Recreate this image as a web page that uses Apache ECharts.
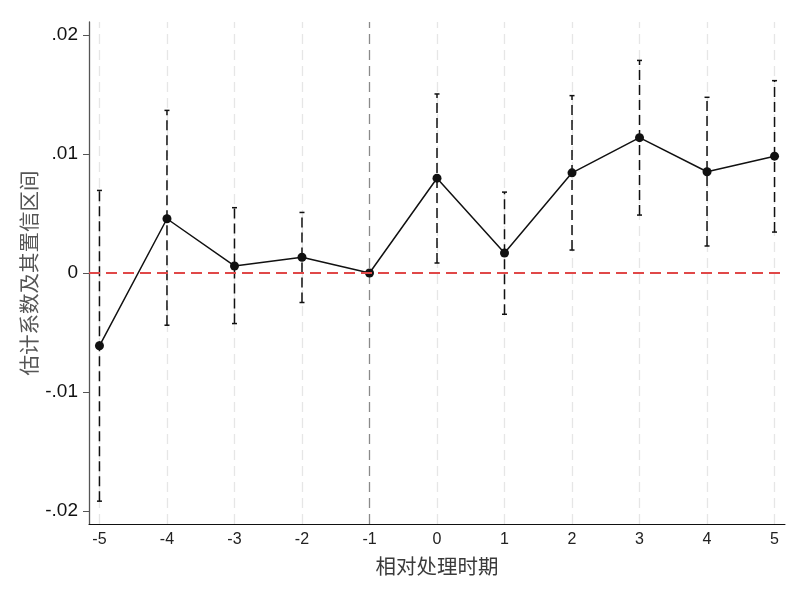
<!DOCTYPE html>
<html>
<head>
<meta charset="utf-8">
<script src="https://cdn.jsdelivr.net/npm/echarts@6/dist/echarts.min.js"></script>
<style>
  html, body { margin: 0; padding: 0; background: #fff; }
  #main { width: 800px; height: 600px; }
</style>
</head>
<body>
<div id="main"></div>
<script>
// 相对处理时期
var periods = [-5, -4, -3, -2, -1, 0, 1, 2, 3, 4, 5];
// 估计系数
var coef = [-0.00612, 0.00456, 0.00059, 0.00132, 0, 0.00797, 0.00168, 0.00842, 0.01138, 0.00851, 0.00982];
// 置信区间
var ciLow = [-0.01918, -0.00439, -0.00425, -0.00248, null, 0.00084, -0.00347, 0.00193, 0.00487, 0.00227, 0.00344];
var ciHigh = [0.00694, 0.01367, 0.00549, 0.00509, null, 0.01505, 0.0068, 0.01491, 0.01787, 0.01477, 0.01617];
var yTicks = [-0.02, -0.01, 0, 0.01, 0.02];
var basePeriod = -1;

var chart = echarts.init(document.getElementById('main'));

var linePoints = periods.map(function (p, i) { return [p, coef[i]]; });
var ciData = [];
periods.forEach(function (p, i) {
  if (ciLow[i] != null) ciData.push([p, ciLow[i], ciHigh[i]]);
});

// vertical guide lines
var vLines = periods.map(function (p) {
  return {
    xAxis: p,
    lineStyle: p === basePeriod
      ? { color: '#8a8a8a', width: 1.3, type: [10, 6] }
      : { color: '#e6e6e6', width: 1.3, type: [10, 6] }
  };
});

function fmtY(v) {
  if (Math.abs(v) < 1e-9) return '0';
  var s = v.toFixed(2);
  return s.replace('0.', '.');
}

var option = {
  backgroundColor: '#fff',
  animation: false,
  grid: { left: 89, right: 15, top: 22, bottom: 76 },
  xAxis: {
    type: 'value',
    min: -5.155,
    max: 5.155,
    name: '相对处理时期',
    nameLocation: 'middle',
    nameGap: 32,
    nameMoveOverlap: false,
    nameTextStyle: { fontFamily: 'Noto Sans CJK SC', fontSize: 20.5, color: '#3a3a3a' },
    axisLine: { onZero: false, lineStyle: { color: '#111', width: 1 } },
    axisTick: { show: false },
    splitLine: { show: false },
    axisLabel: {
      customValues: periods,
      fontFamily: 'Liberation Sans',
      fontSize: 16,
      color: '#222',
      margin: 8,
      formatter: function (v) { return String(v); }
    }
  },
  yAxis: {
    type: 'value',
    min: -0.0211,
    max: 0.0211,
    name: '估计系数及其置信区间',
    nameLocation: 'middle',
    nameGap: 50,
    nameMoveOverlap: false,
    nameRotate: 90,
    nameTextStyle: { fontFamily: 'Noto Sans CJK SC', fontSize: 20.5, color: '#555' },
    axisLine: { show: true, onZero: false, lineStyle: { color: '#555', width: 1.3 } },
    axisTick: { show: true, customValues: yTicks, length: 6, lineStyle: { color: '#555' } },
    splitLine: { show: false },
    axisLabel: {
      customValues: yTicks,
      fontFamily: 'Liberation Sans',
      fontSize: 19,
      color: '#111',
      margin: 11,
      formatter: fmtY
    }
  },
  series: [
    {
      type: 'custom',
      z: 3,
      silent: true,
      data: ciData,
      renderItem: function (params, api) {
        var x = api.value(0);
        var lo = api.coord([x, api.value(1)]);
        var hi = api.coord([x, api.value(2)]);
        var cap = 2.5;
        var st = { stroke: '#111', lineWidth: 1.5 };
        return {
          type: 'group',
          children: [
            { type: 'line', shape: { x1: lo[0], y1: lo[1], x2: hi[0], y2: hi[1] },
              style: { stroke: '#111', lineWidth: 1.5, lineDash: [10, 5] } },
            { type: 'line', shape: { x1: lo[0] - cap, y1: lo[1], x2: lo[0] + cap, y2: lo[1] }, style: st },
            { type: 'line', shape: { x1: hi[0] - cap, y1: hi[1], x2: hi[0] + cap, y2: hi[1] }, style: st }
          ]
        };
      }
    },
    {
      type: 'line',
      z: 4,
      data: linePoints,
      symbol: 'circle',
      symbolSize: 9,
      lineStyle: { color: '#111', width: 1.5 },
      itemStyle: { color: '#111' },
      markLine: {
        silent: true,
        symbol: ['none', 'none'],
        label: { show: false },
        z: 1,
        data: vLines
      }
    },
    {
      type: 'line',
      z: 5,
      data: [],
      markLine: {
        silent: true,
        symbol: ['none', 'none'],
        label: { show: false },
        data: [{ yAxis: 0 }],
        lineStyle: { color: '#e04848', width: 1.8, type: [11, 6] }
      }
    }
  ]
};

chart.setOption(option);
</script>
</body>
</html>
